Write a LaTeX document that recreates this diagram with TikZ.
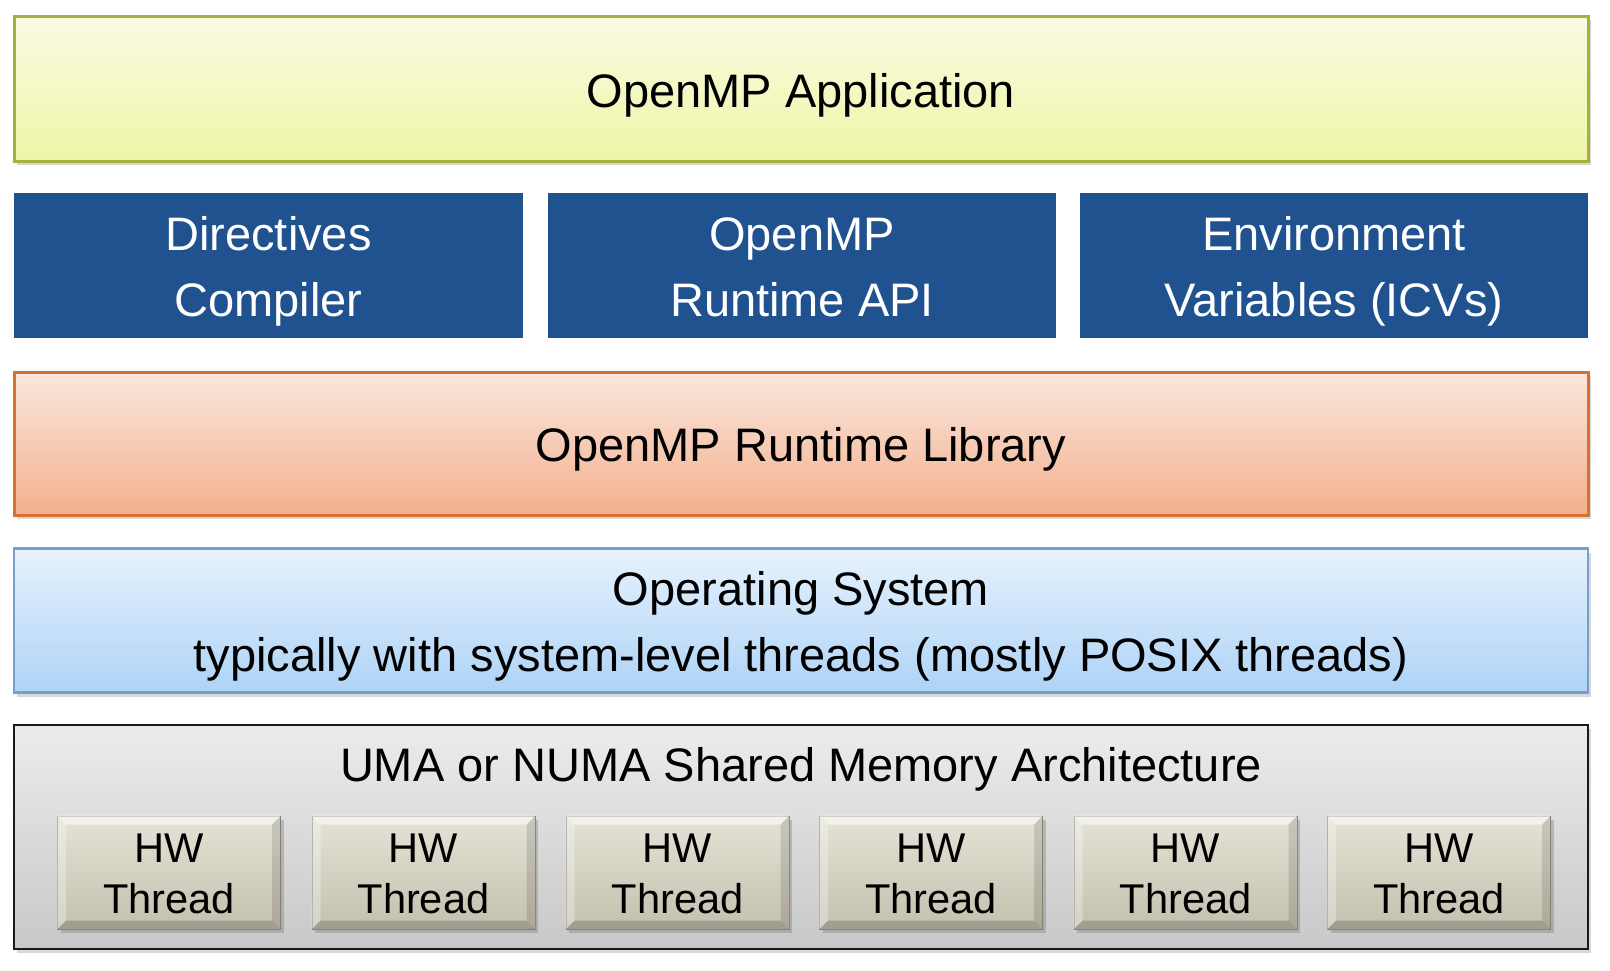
\documentclass[tikz,border=0pt]{standalone}
\usepackage{fontspec}
\setmainfont{Liberation Sans}
\usetikzlibrary{shadows}
\definecolor{ytop}{RGB}{249,251,227}
\definecolor{ybot}{RGB}{238,246,166}
\definecolor{yline}{RGB}{166,177,58}
\definecolor{bluebox}{RGB}{32,82,144}
\definecolor{otop}{RGB}{250,231,221}
\definecolor{obot}{RGB}{243,176,142}
\definecolor{oline}{RGB}{215,113,45}
\definecolor{stop}{RGB}{230,242,253}
\definecolor{sbot}{RGB}{174,211,246}
\definecolor{sline}{RGB}{118,160,201}
\definecolor{gtop}{RGB}{236,236,236}
\definecolor{gbot}{RGB}{200,200,200}
\definecolor{htop}{RGB}{229,227,214}
\definecolor{hbot}{RGB}{196,192,175}
\definecolor{hline}{RGB}{150,148,135}
\tikzset{
  layer/.style={rectangle, inner sep=0pt,
    drop shadow={shadow xshift=3pt, shadow yshift=-4pt, opacity=0.25, fill=black!60}},
  txt/.style={inner sep=0pt, align=center, font=\fontsize{47}{66}\selectfont},
  appbox/.style={layer, top color=ytop, bottom color=ybot, draw=yline, line width=3pt},
  bluecell/.style={rectangle, inner sep=0pt, fill=bluebox, minimum width=508pt, minimum height=145pt},
  libbox/.style={layer, top color=otop, bottom color=obot, draw=oline, line width=3pt},
  osbox/.style={layer, top color=stop, bottom color=sbot, draw=sline, line width=2.5pt},
  membox/.style={layer, top color=gtop, bottom color=gbot, draw=black!90, line width=2pt},
  hwbox/.style={rectangle, inner sep=0pt, top color=htop, bottom color=hbot,
    draw=hline, line width=1pt, minimum width=223pt, minimum height=113pt,
    drop shadow={shadow xshift=3pt, shadow yshift=-4pt, opacity=0.3, fill=black!60}},
  hwtxt/.style={inner sep=0pt, align=center, font=\fontsize{41.6}{51}\selectfont},
  bevellight/.style={fill=white, opacity=0.55, draw=none},
  beveldark/.style={fill=black, opacity=0.12, draw=none}
}
\begin{document}
\begin{tikzpicture}[x=1pt, y=-1pt]
\useasboundingbox (0,0) rectangle (1610,970);
\fill[white] (0,0) rectangle (1610,970);

\node[appbox, minimum width=1574pt, minimum height=145pt] (app) at (801,88.5) {};
\node[txt, yshift=-7pt] (apptext) at (app.center) {OpenMP Application};

\node[bluecell, minimum width=509pt] (dir) at (268.5,265.5) {};
\node[bluecell] (api) at (802,265.5) {};
\node[bluecell] (env) at (1334,265.5) {};
\node[txt, text=white, yshift=-6pt] (dirtext) at (dir.center) {Directives\\Compiler};
\node[txt, text=white, yshift=-2pt] (apitext) at (api.center) {OpenMP\\Runtime API};
\node[txt, text=white, yshift=-6pt] (envtext) at (env.center) {Environment\\Variables (ICVs)};

\node[libbox, minimum width=1574pt, minimum height=143pt] (lib) at (801,443.5) {};
\node[txt, yshift=-6pt] (libtext) at (lib.center) {OpenMP Runtime Library};

\node[osbox, minimum width=1574pt, minimum height=144pt] (os) at (801,620.5) {};
\node[txt, yshift=-6pt] (ostext) at (os.center) {Operating System\\typically with system-level threads (mostly POSIX threads)};

\node[membox, minimum width=1574pt, minimum height=224pt] (mem) at (801,837) {};
\node[txt] (memtitle) at (801,769) {UMA or NUMA Shared Memory Architecture};

\foreach \i/\cx in {1/169, 2/423.5, 3/677.5, 4/931, 5/1185.5, 6/1439} {
  \node[hwbox] (hw\i) at (\cx,872.5) {};
  \fill[bevellight] (hw\i.north west) -- (hw\i.north east) -- ([xshift=-9pt,yshift=-9pt]hw\i.north east) -- ([xshift=9pt,yshift=-9pt]hw\i.north west) -- cycle;
  \fill[bevellight, opacity=0.3] (hw\i.north west) -- ([xshift=9pt,yshift=-9pt]hw\i.north west) -- ([xshift=9pt,yshift=9pt]hw\i.south west) -- (hw\i.south west) -- cycle;
  \fill[beveldark] (hw\i.north east) -- (hw\i.south east) -- ([xshift=-9pt,yshift=9pt]hw\i.south east) -- ([xshift=-9pt,yshift=-9pt]hw\i.north east) -- cycle;
  \fill[beveldark, opacity=0.18] (hw\i.south west) -- ([xshift=9pt,yshift=9pt]hw\i.south west) -- ([xshift=-9pt,yshift=9pt]hw\i.south east) -- (hw\i.south east) -- cycle;
  \node[hwtxt, yshift=-1pt] (hwt\i) at (hw\i.center) {HW\\Thread};
}
\end{tikzpicture}
\end{document}
